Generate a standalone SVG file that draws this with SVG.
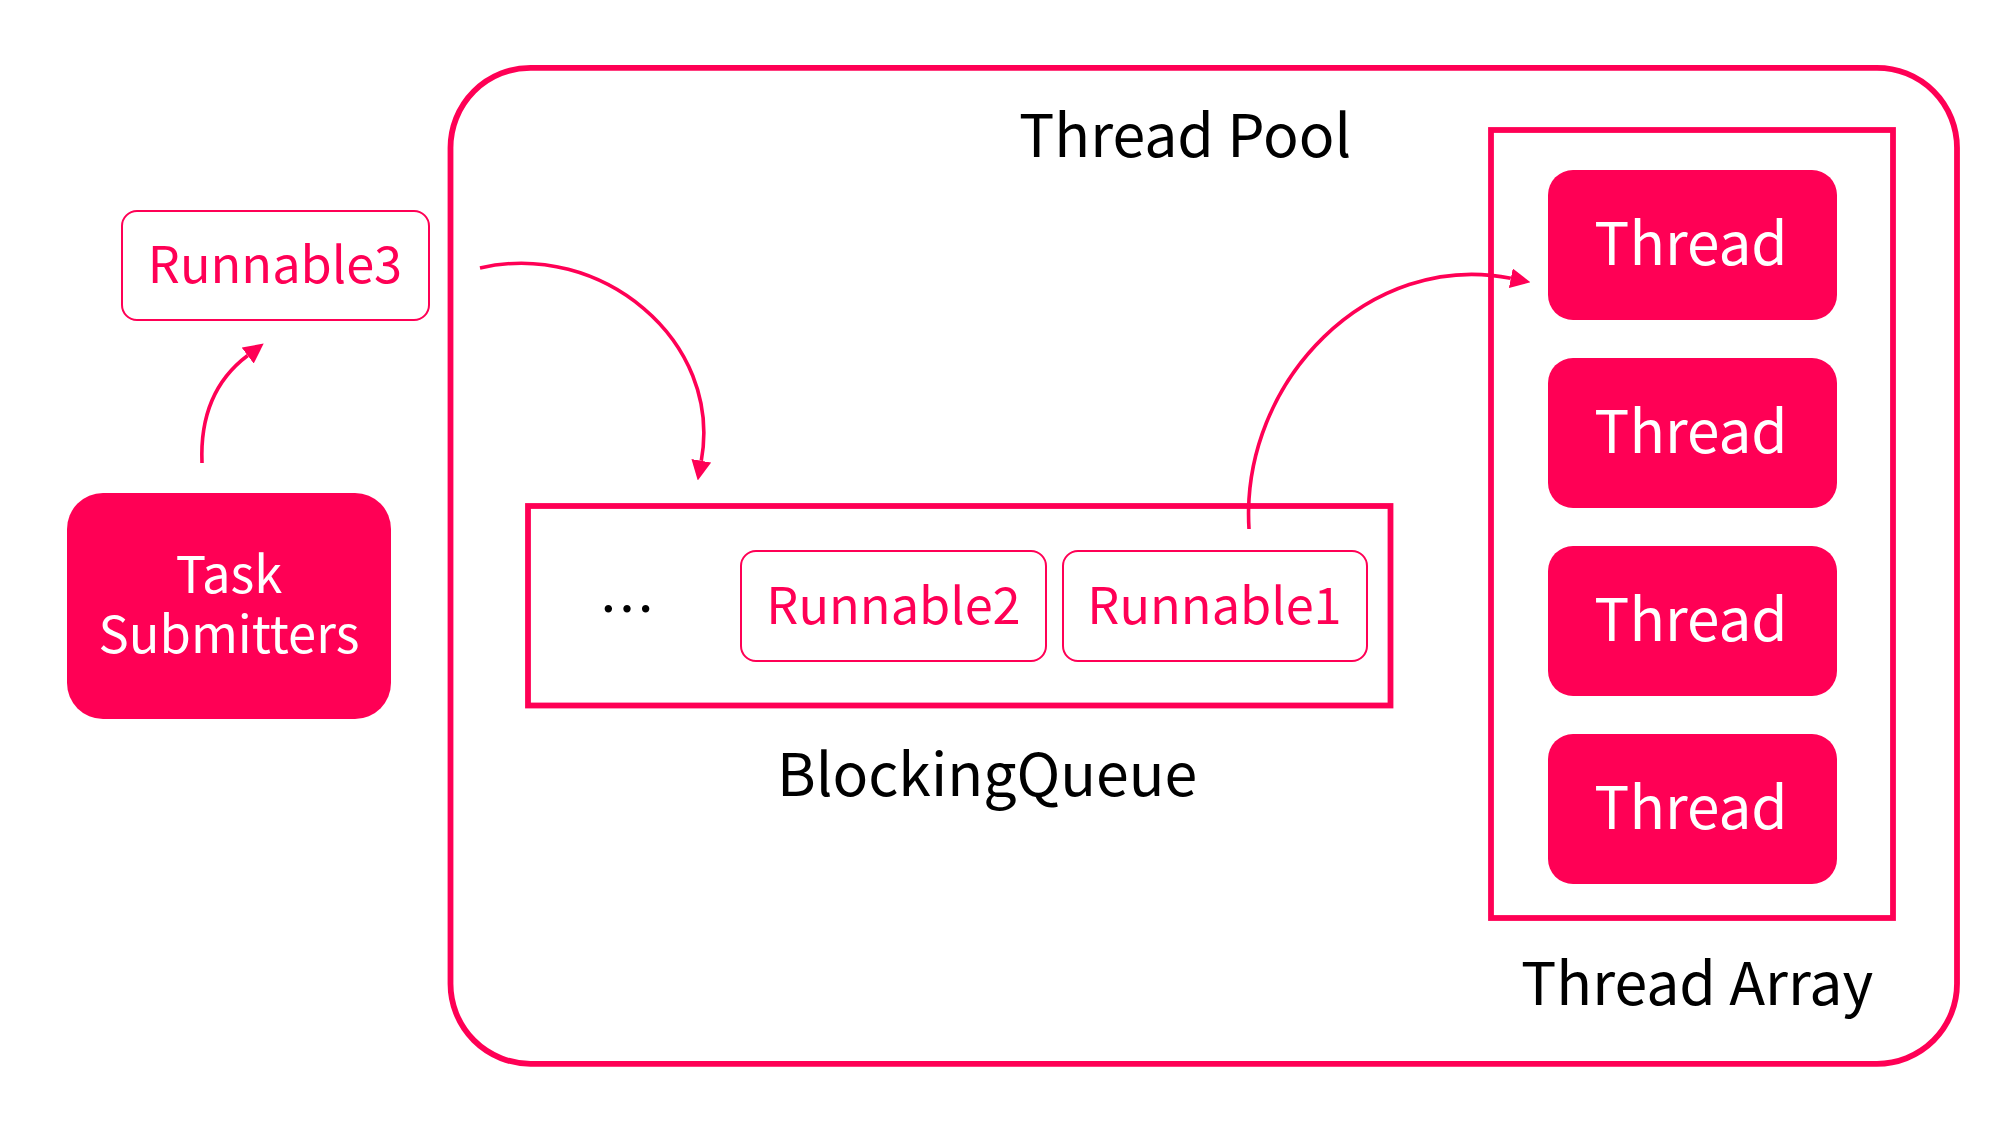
<svg xmlns="http://www.w3.org/2000/svg" width="2000" height="1125" viewBox="0 0 2000 1125">
  <style>
    text { font-family: "Noto Sans CJK SC", "Noto Sans", sans-serif; }
    .frame { fill: none; stroke: #FF0055; stroke-width: 5.8; }
    .task { fill: none; stroke: #FF0055; stroke-width: 2; }
    .solid { fill: #FF0055; }
    .pink { fill: #FF0055; font-size: 50.5px; text-anchor: middle; }
    .white { fill: #FFFFFF; text-anchor: middle; }
    .label { fill: #000000; font-size: 59px; }
    .conn { fill: none; stroke: #FF0055; stroke-width: 3.6; }
  </style>
  <defs>
    <marker id="arrow" viewBox="0 0 20 20" refX="0" refY="10" markerWidth="20" markerHeight="20" markerUnits="userSpaceOnUse" orient="auto">
      <path d="M0,0 L20,10 L0,20 z" fill="#FF0055"/>
    </marker>
  </defs>
  <rect width="2000" height="1125" fill="#FFFFFF"/>

  <g id="thread-pool">
    <rect class="frame" x="450.5" y="67.8" width="1506.5" height="996" rx="80" ry="80"/>
    <text class="label" x="1019" y="157">Thread Pool</text>
  </g>

  <g id="task-submitters">
    <rect class="solid" x="67" y="493" width="324" height="226" rx="36" ry="36"/>
    <text class="white" font-size="50.7"><tspan x="229" y="592.7">Task</tspan><tspan x="229" y="652.7">Submitters</tspan></text>
  </g>

  <g id="runnable3">
    <rect class="task" x="122" y="211" width="307" height="109" rx="15" ry="15"/>
    <text class="pink" x="275" y="283.3">Runnable3</text>
  </g>

  <g id="blocking-queue">
    <rect class="frame" x="528" y="506" width="862.5" height="199.5"/>
    <text x="627" y="630" font-size="56" text-anchor="middle" fill="#000000">…</text>
    <text class="label" x="777" y="796" font-size="57.3">BlockingQueue</text>
  </g>

  <g id="runnable2">
    <rect class="task" x="741" y="551" width="305" height="110" rx="15" ry="15"/>
    <text class="pink" x="893.5" y="624">Runnable2</text>
  </g>

  <g id="runnable1">
    <rect class="task" x="1063" y="551" width="304" height="110" rx="15" ry="15"/>
    <text class="pink" x="1214.5" y="623.5">Runnable1</text>
  </g>

  <g id="thread-array">
    <rect class="frame" x="1491" y="130" width="402" height="788"/>
    <text class="label" x="1521" y="1005">Thread Array</text>
  </g>

  <g id="thread-1">
    <rect class="solid" x="1548" y="170" width="289" height="150" rx="25" ry="25"/>
    <text class="white" x="1691" y="265" font-size="58.5">Thread</text>
  </g>
  <g id="thread-2">
    <rect class="solid" x="1548" y="358" width="289" height="150" rx="25" ry="25"/>
    <text class="white" x="1691" y="453" font-size="58.5">Thread</text>
  </g>
  <g id="thread-3">
    <rect class="solid" x="1548" y="546" width="289" height="150" rx="25" ry="25"/>
    <text class="white" x="1691" y="641" font-size="58.5">Thread</text>
  </g>
  <g id="thread-4">
    <rect class="solid" x="1548" y="734" width="289" height="150" rx="25" ry="25"/>
    <text class="white" x="1691" y="829" font-size="58.5">Thread</text>
  </g>

  <g id="connectors">
    <path class="conn" d="M202,463 C200,415 215,380 247.7,355.5" marker-end="url(#arrow)"/>
    <path class="conn" d="M480,268 C600,240 723,340 701.3,460.8" marker-end="url(#arrow)"/>
    <path class="conn" d="M1249,529 C1240,380 1370,250 1510.8,278.3" marker-end="url(#arrow)"/>
  </g>
</svg>
